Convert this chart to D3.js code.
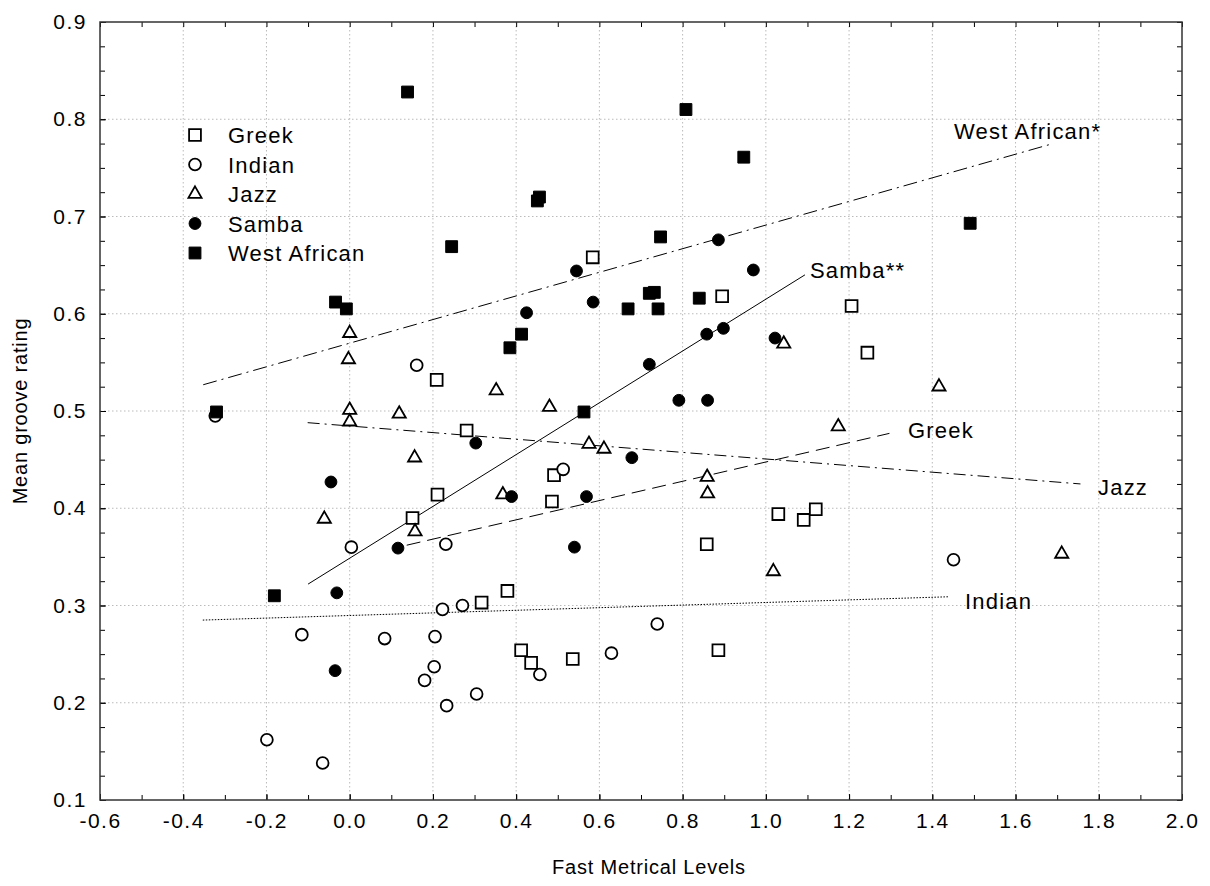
<!DOCTYPE html>
<html>
<head>
<meta charset="utf-8">
<script src="https://cdn.jsdelivr.net/npm/d3@7"></script>
<style>
  body { margin: 0; background: #fff; overflow: hidden; }
  svg { display: block; }
  text { font-family: "Liberation Sans", Arial, sans-serif; fill: #000; }
  .tick text { font-size: 21px; letter-spacing: 1.5px; }
  .lbl { font-size: 22px; letter-spacing: 1.2px; }
</style>
</head>
<body>
<div id="chart"></div>
<script>
// --- Data ---
const greek = [
  [0.584, 0.658], [0.895, 0.618], [1.206, 0.608], [1.244, 0.560], [0.209, 0.532],
  [0.281, 0.480], [0.491, 0.434], [0.486, 0.407], [0.211, 0.414], [0.151, 0.390],
  [1.030, 0.394], [1.091, 0.388], [1.120, 0.399], [0.858, 0.363], [0.379, 0.315],
  [0.317, 0.303], [0.412, 0.254], [0.436, 0.241], [0.536, 0.245], [0.886, 0.254]
];
const indian = [
  [-0.323, 0.495], [0.161, 0.547], [0.513, 0.440], [0.004, 0.360], [0.231, 0.363],
  [0.271, 0.300], [0.223, 0.296], [-0.115, 0.270], [0.084, 0.266], [0.205, 0.268],
  [0.457, 0.229], [0.203, 0.237], [0.180, 0.223], [0.305, 0.209], [0.233, 0.197],
  [-0.199, 0.162], [-0.065, 0.138], [0.739, 0.281], [0.629, 0.251], [1.451, 0.347]
];
const jazz = [
  [0.000, 0.580], [-0.003, 0.553], [0.000, 0.501], [0.000, 0.489], [0.119, 0.497],
  [0.352, 0.521], [0.480, 0.504], [1.043, 0.569], [1.174, 0.484], [1.416, 0.525],
  [0.156, 0.452], [0.368, 0.414], [-0.061, 0.389], [0.157, 0.376], [0.575, 0.466],
  [0.611, 0.461], [0.859, 0.432], [0.860, 0.415], [1.018, 0.335], [1.711, 0.353]
];
const samba = [
  [0.886, 0.676], [0.545, 0.644], [0.970, 0.645], [0.585, 0.612], [0.425, 0.601],
  [0.858, 0.579], [0.898, 0.585], [1.022, 0.575], [0.720, 0.548], [0.791, 0.511],
  [0.860, 0.511], [0.303, 0.467], [-0.045, 0.427], [0.389, 0.412], [0.116, 0.359],
  [-0.031, 0.313], [-0.035, 0.233], [0.678, 0.452], [0.569, 0.412], [0.540, 0.360]
];
const westAfrican = [
  [0.139, 0.828], [0.808, 0.810], [0.947, 0.761], [0.451, 0.716], [0.456, 0.720],
  [0.245, 0.669], [0.747, 0.679], [1.491, 0.693], [-0.034, 0.612], [-0.008, 0.605],
  [0.720, 0.621], [0.732, 0.622], [0.840, 0.616], [0.669, 0.605], [0.741, 0.605],
  [0.413, 0.579], [0.385, 0.565], [0.563, 0.499], [-0.320, 0.499], [-0.181, 0.310]
];

// regression lines: [x1, y1, x2, y2]
const fitWestAfrican = [-0.352, 0.527, 1.682, 0.774];
const fitSamba = [-0.100, 0.322, 1.094, 0.640];
const fitGreek = [0.137, 0.362, 1.297, 0.477];
const fitJazz = [-0.101, 0.488, 1.756, 0.425];
const fitIndian = [-0.353, 0.285, 1.441, 0.309];

const xTicks = [-0.6, -0.4, -0.2, 0.0, 0.2, 0.4, 0.6, 0.8, 1.0, 1.2, 1.4, 1.6, 1.8, 2.0];
const yTicks = [0.1, 0.2, 0.3, 0.4, 0.5, 0.6, 0.7, 0.8, 0.9];

// --- Layout ---
const width = 1210, height = 886;
const margin = { top: 22, right: 28, bottom: 86, left: 100 };
const innerWidth = width - margin.left - margin.right;
const innerHeight = height - margin.top - margin.bottom;

const svg = d3.select("#chart").append("svg")
  .attr("width", width).attr("height", height);
const g = svg.append("g").attr("transform", `translate(${margin.left},${margin.top})`);

const x = d3.scaleLinear().domain([-0.6, 2.0]).range([0, innerWidth]);
const y = d3.scaleLinear().domain([0.1, 0.9]).range([innerHeight, 0]);

// gridlines
g.append("g").selectAll("line").data(xTicks.slice(1, -1)).join("line")
  .attr("x1", d => x(d)).attr("x2", d => x(d)).attr("y1", 0).attr("y2", innerHeight)
  .attr("stroke", "#bbb").attr("stroke-dasharray", "1.5,2.5");
g.append("g").selectAll("line").data(yTicks.slice(1, -1)).join("line")
  .attr("y1", d => y(d)).attr("y2", d => y(d)).attr("x1", 0).attr("x2", innerWidth)
  .attr("stroke", "#bbb").attr("stroke-dasharray", "1.5,2.5");

// axes with inward ticks (plain hyphen for negatives, like the original)
const fmt = d => d3.format(".1f")(d).replace("\u2212", "-");
const minorX = d3.range(-0.6, 2.0001, 0.1);
const minorY = d3.range(0.1, 0.9001, 0.025);
g.append("g").attr("transform", `translate(0,${innerHeight})`)
  .call(d3.axisBottom(x).tickValues(xTicks).tickFormat(fmt).tickSizeInner(-6).tickSizeOuter(0).tickPadding(13));
g.append("g")
  .call(d3.axisLeft(y).tickValues(yTicks).tickFormat(fmt).tickSizeInner(-6).tickSizeOuter(0).tickPadding(13));
g.append("g").attr("transform", `translate(0,${innerHeight})`)
  .call(d3.axisBottom(x).tickValues(minorX).tickFormat("").tickSizeInner(-5).tickSizeOuter(0));
g.append("g")
  .call(d3.axisLeft(y).tickValues(minorY).tickFormat("").tickSizeInner(-5).tickSizeOuter(0));
g.append("g")
  .call(d3.axisTop(x).tickValues(minorX).tickFormat("").tickSizeInner(-5).tickSizeOuter(0));
g.append("g").attr("transform", `translate(${innerWidth},0)`)
  .call(d3.axisRight(y).tickValues(minorY).tickFormat("").tickSizeInner(-5).tickSizeOuter(0));
svg.selectAll(".domain").remove();
g.append("rect").attr("width", innerWidth).attr("height", innerHeight)
  .attr("fill", "none").attr("stroke", "#333").attr("stroke-width", 1.5);

// axis titles
svg.append("text").attr("x", margin.left + innerWidth / 2 + 8).attr("y", 874)
  .attr("text-anchor", "middle").style("font-size", "20px").style("letter-spacing", "0.8px")
  .text("Fast Metrical Levels");
svg.append("text").attr("transform", `translate(27,${margin.top + innerHeight / 2}) rotate(-90)`)
  .attr("text-anchor", "middle").style("font-size", "20px").style("letter-spacing", "0.8px")
  .text("Mean groove rating");

// regression lines
const fits = [
  { f: fitWestAfrican, dash: "14,5,2,5", label: "West African*", lx: 954, ly: 139 },
  { f: fitSamba, dash: null, label: "Samba**", lx: 810, ly: 278 },
  { f: fitGreek, dash: "14,7", label: "Greek", lx: 908, ly: 438 },
  { f: fitJazz, dash: "12,5,2,5", label: "Jazz", lx: 1098, ly: 495 },
  { f: fitIndian, dash: "1.5,1.5", label: "Indian", lx: 965, ly: 609 }
];
fits.forEach(d => {
  g.append("line")
    .attr("x1", x(d.f[0])).attr("y1", y(d.f[1])).attr("x2", x(d.f[2])).attr("y2", y(d.f[3]))
    .attr("stroke", "#000").attr("stroke-width", 1)
    .attr("stroke-dasharray", d.dash);
  svg.append("text").attr("class", "lbl").attr("x", d.lx).attr("y", d.ly).text(d.label);
});

// markers
const sym = {
  square: d3.symbol().type(d3.symbolSquare).size(140),
  circle: d3.symbol().type(d3.symbolCircle).size(110),
  triangle: d3.symbol().type(d3.symbolTriangle).size(75)
};
const groups = [
  { name: "Greek", data: greek, shape: "square", filled: false },
  { name: "Indian", data: indian, shape: "circle", filled: false },
  { name: "Jazz", data: jazz, shape: "triangle", filled: false },
  { name: "Samba", data: samba, shape: "circle", filled: true },
  { name: "West African", data: westAfrican, shape: "square", filled: true }
];
groups.forEach(s => {
  g.append("g").selectAll("path").data(s.data).join("path")
    .attr("d", sym[s.shape])
    .attr("transform", d => `translate(${x(d[0])},${y(d[1])})`)
    .attr("fill", s.filled ? "#000" : "#fff")
    .attr("stroke", "#000").attr("stroke-width", s.filled ? 1 : 1.8);
});

// legend
const legend = svg.append("g").attr("transform", "translate(195,135)");
groups.forEach((s, i) => {
  const row = legend.append("g").attr("transform", `translate(0,${i * 29.5})`);
  row.append("path").attr("d", sym[s.shape])
    .attr("fill", s.filled ? "#000" : "#fff")
    .attr("stroke", "#000").attr("stroke-width", s.filled ? 1 : 1.8);
  row.append("text").attr("class", "lbl").attr("x", 33).attr("y", 8).text(s.name);
});
</script>
</body>
</html>
